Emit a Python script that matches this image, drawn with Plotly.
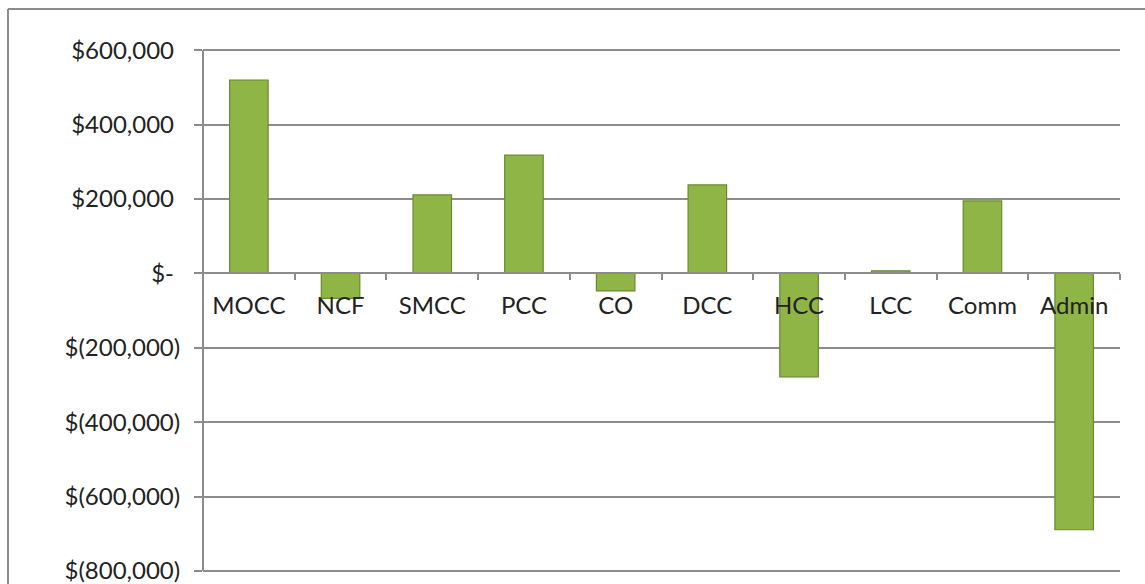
import plotly.graph_objects as go

categories = ["MOCC", "NCF", "SMCC", "PCC", "CO", "DCC", "HCC", "LCC", "Comm", "Admin"]
values = [520000, -67000, 211000, 318000, -47000, 238000, -278000, 7000, 195000, -689000]
y_tickvals = [600000, 400000, 200000, 0, -200000, -400000, -600000, -800000]


def fmt(v):
    if v == 0:
        return "$-\u00a0"
    if v > 0:
        return "${:,}\u00a0".format(v)
    return "$({:,})".format(-v)


y_ticktext = [fmt(v) for v in y_tickvals]

W, H = 1145, 584
ml, mr, mt, mb = 203, 25, 48, 7
ymin, ymax = -816000, 606000

fig = go.Figure()
fig.add_trace(go.Bar(
    x=categories, y=values,
    marker=dict(color="#8fb547", line=dict(color="#6a8a2c", width=1.2)),
    width=0.42,
))

font = dict(family="Lato, Calibri, sans-serif", size=24, color="#222222")

fig.update_layout(
    template="none",
    width=W, height=H,
    margin=dict(l=ml, r=mr, t=mt, b=mb, pad=0),
    paper_bgcolor="white", plot_bgcolor="white",
    showlegend=False,
    font=font,
    xaxis=dict(
        anchor="free",
        position=(0 - ymin) / (ymax - ymin),
        automargin=False,
        showline=True, linecolor="#8c8c8c", linewidth=2,
        ticks="outside", ticklen=6, tickcolor="#8c8c8c", tickwidth=2,
        tickson="boundaries",
        showgrid=False, zeroline=False,
        tickfont=font,
        ticklabelstandoff=11,
    ),
    yaxis=dict(
        range=[ymin, ymax],
        automargin=False,
        tickvals=y_tickvals, ticktext=y_ticktext,
        showline=False,
        ticks="outside", ticklen=8, tickcolor="#8c8c8c", tickwidth=2,
        showgrid=True, gridcolor="#8c8c8c", gridwidth=1.5,
        zeroline=False,
        tickfont=font,
        ticklabelstandoff=9,
        ticklabeloverflow="allow",
    ),
    shapes=[
        dict(type="line", xref="paper", yref="y",
             x0=0, x1=0, y0=-800000, y1=600000,
             line=dict(color="#8c8c8c", width=2)),
        dict(type="line", xref="paper", yref="paper",
             x0=(8 - ml) / (W - ml - mr), x1=1.05,
             y0=(H - mb - 9) / (H - mt - mb), y1=(H - mb - 9) / (H - mt - mb),
             line=dict(color="#8c8c8c", width=2)),
        dict(type="line", xref="paper", yref="paper",
             x0=(8 - ml) / (W - ml - mr), x1=(8 - ml) / (W - ml - mr),
             y0=(H - mb - 9) / (H - mt - mb), y1=-0.05,
             line=dict(color="#8c8c8c", width=2)),
    ],
)

fig.write_html("out.html", config={"displayModeBar": False},
               post_script="document.body.style.margin='0px';document.body.style.overflow='hidden';")
